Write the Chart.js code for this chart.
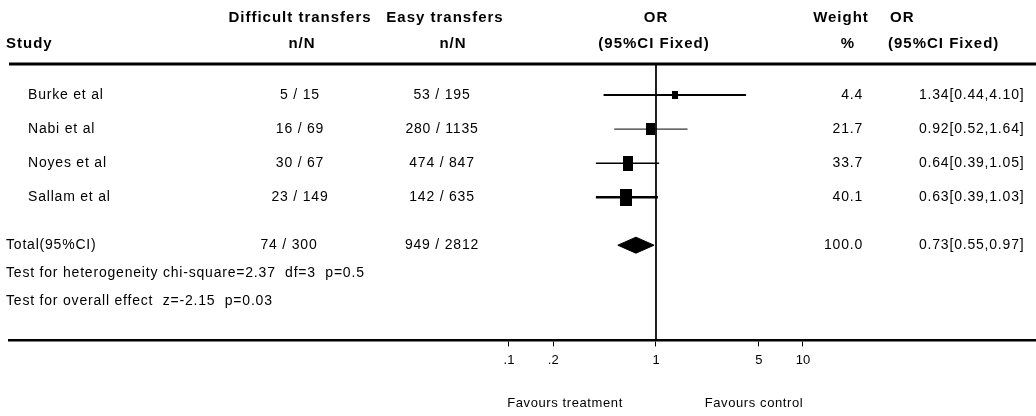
<!DOCTYPE html>
<html>
<head>
<meta charset="utf-8">
<style>
  html, body { margin: 0; padding: 0; background: #fff; }
  #wrap { width: 1036px; height: 416px; }
</style>
<script src="https://cdn.jsdelivr.net/npm/chart.js@4/dist/chart.umd.min.js"></script>
</head>
<body>
<div id="wrap"><canvas id="forest" width="1036" height="416"></canvas></div>
<script>
// study data
var studies = ['Burke et al', 'Nabi et al', 'Noyes et al', 'Sallam et al'];
var diffEvents = [5, 16, 30, 23];
var diffTotal = [15, 69, 67, 149];
var easyEvents = [53, 280, 474, 142];
var easyTotal = [195, 1135, 847, 635];
var weights = [4.4, 21.7, 33.7, 40.1];
var oddsRatio = [1.34, 0.92, 0.64, 0.63];
var ciLow = [0.44, 0.52, 0.39, 0.39];
var ciHigh = [4.10, 1.64, 1.05, 1.03];

// pooled
var totalLabel = 'Total(95%CI)';
var totalDiff = [74, 300];
var totalEasy = [949, 2812];
var totalWeight = 100.0;
var totalOR = 0.73;
var totalLow = 0.55;
var totalHigh = 0.97;
var heteroText = 'Test for heterogeneity chi-square=2.37  df=3  p=0.5';
var overallText = 'Test for overall effect  z=-2.15  p=0.03';

// axis
var tickValues = [0.1, 0.2, 1, 5, 10];
var tickLabels = ['.1', '.2', '1', '5', '10'];

// row positions on the y scale
var studyRows = [1, 2, 3, 4];
var totalRow = 5.41;
var heteroRow = 6.235;
var overallRow = 7.06;

// styles
var ciWidths = [2, 1, 1.5, 2.5];
var boxSizes = [[6, 8], [9, 12], [10, 15], [12, 17]];

var FONT = '"Liberation Sans", Arial, sans-serif';

function makeBox(w, h) {
    var c = document.createElement('canvas');
    c.width = w; c.height = h;
    var g = c.getContext('2d');
    g.fillStyle = '#000';
    g.fillRect(0, 0, w, h);
    return c;
}

function fmtOR(o, l, h) {
    return o.toFixed(2) + '[' + l.toFixed(2) + ',' + h.toFixed(2) + ']';
}

var datasets = [];

// reference line at OR = 1
datasets.push({
    data: [{x: 1, y: 0.088}, {x: 1, y: 8.206}],
    showLine: true, borderColor: '#000', borderWidth: 1, pointRadius: 0
});

studies.forEach(function (s, i) {
    datasets.push({
        data: [{x: ciLow[i], y: studyRows[i]}, {x: ciHigh[i], y: studyRows[i]}],
        showLine: true, borderColor: '#000', borderWidth: ciWidths[i], pointRadius: 0
    });
    datasets.push({
        data: [{x: oddsRatio[i], y: studyRows[i]}],
        pointStyle: makeBox(boxSizes[i][0], boxSizes[i][1]),
        pointRadius: 6, borderWidth: 0
    });
});

// pooled diamond
datasets.push({
    data: [
        {x: totalLow, y: totalRow},
        {x: totalOR, y: totalRow - 0.235},
        {x: totalHigh, y: totalRow},
        {x: totalOR, y: totalRow + 0.235},
        {x: totalLow, y: totalRow}
    ],
    showLine: true, fill: 'shape', backgroundColor: '#000',
    borderColor: '#000', borderWidth: 1, pointRadius: 0, tension: 0
});

var textPlugin = {
    id: 'forestText',
    afterDraw: function (chart) {
        var ctx = chart.ctx;
        var area = chart.chartArea;
        var y = chart.scales.y;
        ctx.save();
        ctx.fillStyle = '#000';
        ctx.textBaseline = 'middle';

        // header rule
        ctx.fillRect(area.left, area.top - 1.5, area.right - area.left, 3);

        // headers
        ctx.font = 'bold 15px ' + FONT;
        ctx.letterSpacing = '1px';
        ctx.textAlign = 'center';
        ctx.fillText('Difficult transfers', 300, 18);
        ctx.fillText('n/N', 302, 44);
        ctx.fillText('Easy transfers', 445, 18);
        ctx.fillText('n/N', 453, 44);
        ctx.fillText('OR', 656, 18);
        ctx.fillText('(95%CI Fixed)', 654, 44);
        ctx.fillText('Weight', 841, 18);
        ctx.fillText('%', 848, 44);
        ctx.textAlign = 'left';
        ctx.fillText('Study', 6, 44);
        ctx.fillText('OR', 890, 18);
        ctx.fillText('(95%CI Fixed)', 888, 44);

        // study rows
        ctx.font = '14px ' + FONT;
        ctx.letterSpacing = '0.8px';
        studies.forEach(function (s, i) {
            var py = y.getPixelForValue(studyRows[i]);
            ctx.textAlign = 'left';
            ctx.fillText(s, 28, py);
            ctx.fillText(fmtOR(oddsRatio[i], ciLow[i], ciHigh[i]), 919, py);
            ctx.textAlign = 'center';
            ctx.fillText(diffEvents[i] + ' / ' + diffTotal[i], 300, py);
            ctx.fillText(easyEvents[i] + ' / ' + easyTotal[i], 442, py);
            ctx.textAlign = 'right';
            ctx.fillText(weights[i].toFixed(1), 863, py);
        });

        // total row
        var ty = y.getPixelForValue(totalRow);
        ctx.textAlign = 'left';
        ctx.fillText(totalLabel, 6, ty);
        ctx.fillText(fmtOR(totalOR, totalLow, totalHigh), 919, ty);
        ctx.textAlign = 'center';
        ctx.fillText(totalDiff[0] + ' / ' + totalDiff[1], 289, ty);
        ctx.fillText(totalEasy[0] + ' / ' + totalEasy[1], 442, ty);
        ctx.textAlign = 'right';
        ctx.fillText(totalWeight.toFixed(1), 863, ty);

        ctx.textAlign = 'left';
        ctx.fillText(heteroText, 6, y.getPixelForValue(heteroRow));
        ctx.fillText(overallText, 6, y.getPixelForValue(overallRow));

        // favours labels
        ctx.font = '13px ' + FONT;
        ctx.letterSpacing = '0.6px';
        ctx.textAlign = 'center';
        ctx.fillText('Favours treatment', 565, 403);
        ctx.fillText('Favours control', 754, 403);
        ctx.restore();
    }
};

new Chart(document.getElementById('forest'), {
    type: 'scatter',
    data: { datasets: datasets },
    plugins: [textPlugin],
    options: {
        responsive: false,
        animation: false,
        layout: {
            autoPadding: false,
            padding: { top: 64, left: 9, right: 0, bottom: 42 }
        },
        plugins: {
            legend: { display: false },
            tooltip: { enabled: false }
        },
        scales: {
            x: {
                type: 'logarithmic',
                min: 3.97e-5,
                max: 384.6,
                afterBuildTicks: function (scale) {
                    scale.ticks = tickValues.map(function (v) { return {value: v}; });
                },
                afterFit: function (scale) {
                    scale.paddingLeft = 0;
                    scale.paddingRight = 0;
                },
                ticks: {
                    autoSkip: false,
                    maxRotation: 0,
                    padding: 6,
                    color: '#000',
                    font: { family: FONT, size: 13 },
                    callback: function (v) {
                        var k = tickValues.indexOf(v);
                        return k >= 0 ? tickLabels[k] : '';
                    }
                },
                grid: {
                    drawOnChartArea: false,
                    drawTicks: true,
                    tickLength: 6,
                    color: '#000',
                    lineWidth: 1
                },
                border: { display: true, color: '#000', width: 2.5 }
            },
            y: {
                display: false,
                reverse: true,
                min: 0.088,
                max: 8.206
            }
        }
    }
});
</script>
</body>
</html>
